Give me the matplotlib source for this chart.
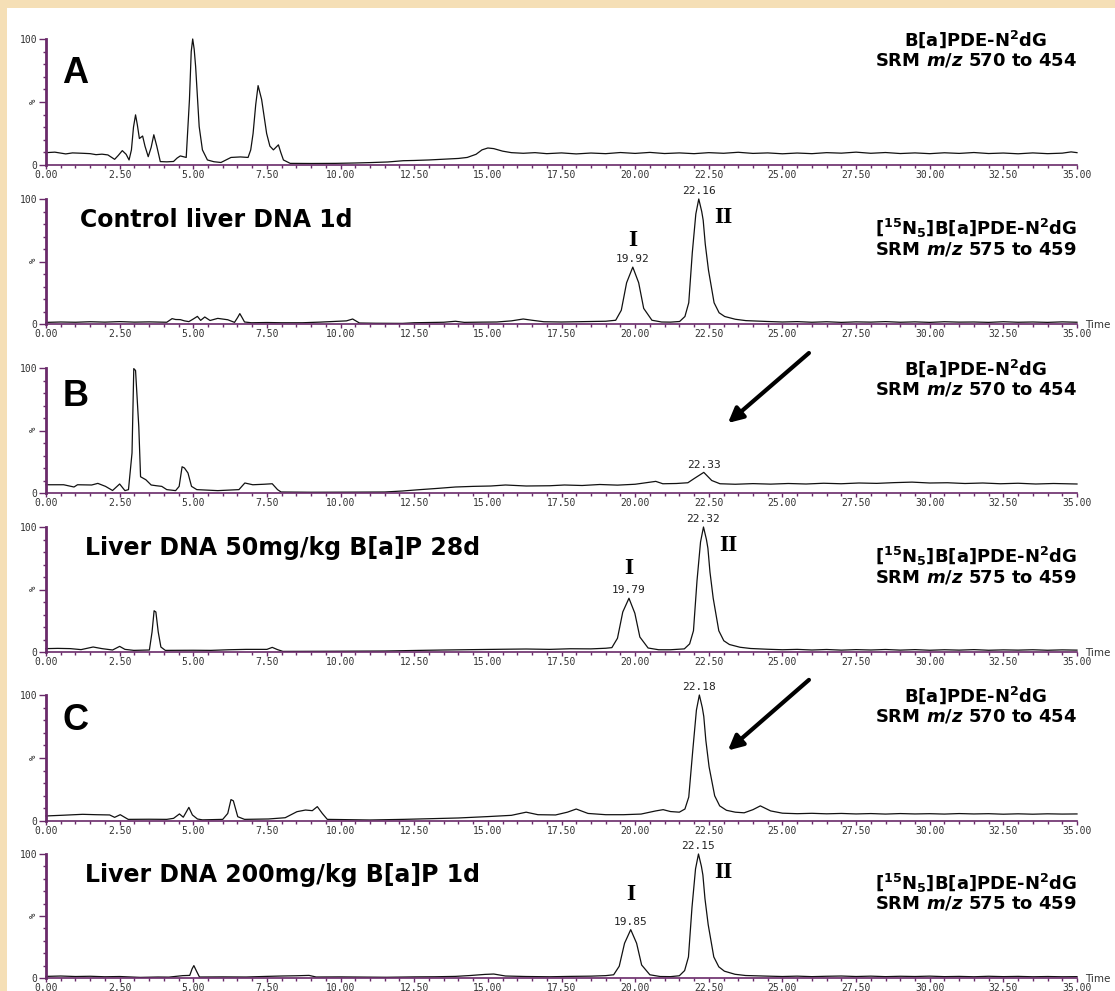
import matplotlib
matplotlib.use("Agg")
import numpy as np
import matplotlib.pyplot as plt
from matplotlib.patches import Rectangle
from matplotlib.ticker import MultipleLocator, FixedLocator, FormatStrFormatter

plt.rcParams["font.family"] = ["DejaVu Sans"]
plt.rcParams["mathtext.fontset"] = "custom"
plt.rcParams["mathtext.rm"] = "DejaVu Sans:bold"
plt.rcParams["mathtext.bf"] = "DejaVu Sans:bold"
plt.rcParams["mathtext.it"] = "DejaVu Sans:italic:bold"

# chromatogram traces, (time in min, relative intensity %)
trace_a = [(0.00, 9.8), (0.30, 10.2), (0.67, 8.8), (0.90, 9.6), (1.24, 9.3), (1.50, 9.0), (1.70, 8.2),
           (1.90, 8.6), (2.10, 8.0), (2.33, 4.5), (2.45, 7.5), (2.59, 11.4), (2.72, 8.5), (2.82, 4.0),
           (2.90, 12.0), (2.97, 30.0), (3.04, 39.8), (3.10, 32.0), (3.17, 21.0), (3.28, 23.0), (3.36, 15.0),
           (3.47, 6.6), (3.57, 14.0), (3.66, 24.0), (3.76, 15.0), (3.88, 2.7), (4.10, 2.5), (4.33, 2.8),
           (4.45, 5.5), (4.56, 7.2), (4.76, 6.0), (4.87, 52.0), (4.93, 90.0), (4.98, 100.0), (5.03, 92.0),
           (5.08, 78.0), (5.20, 30.5), (5.31, 12.0), (5.48, 4.0), (5.70, 2.6), (5.94, 2.0), (6.28, 6.0),
           (6.60, 6.4), (6.86, 6.0), (6.95, 12.0), (7.03, 25.0), (7.12, 48.0), (7.20, 63.0), (7.32, 52.0),
           (7.49, 25.0), (7.60, 15.0), (7.72, 12.0), (7.89, 16.0), (7.97, 10.0), (8.06, 4.0), (8.29, 1.3),
           (9.00, 1.2), (9.84, 1.3), (10.50, 1.6), (10.99, 1.9), (11.60, 2.4), (12.13, 3.4), (12.50, 3.6),
           (13.00, 4.0), (13.50, 4.6), (14.00, 5.2), (14.30, 6.0), (14.60, 8.5), (14.80, 12.0), (15.00, 13.5),
           (15.20, 13.0), (15.50, 11.0), (15.80, 9.8), (16.20, 9.3), (16.60, 9.8), (17.00, 9.0), (17.50, 9.6),
           (18.00, 8.8), (18.50, 9.5), (19.00, 9.0), (19.50, 9.9), (20.00, 9.2), (20.50, 10.0), (21.00, 9.1),
           (21.50, 9.6), (22.00, 9.0), (22.50, 9.8), (23.00, 9.3), (23.50, 10.1), (24.00, 9.2), (24.50, 9.6),
           (25.00, 8.9), (25.50, 9.5), (26.00, 9.0), (26.50, 9.8), (27.00, 9.4), (27.50, 10.2), (28.00, 9.3),
           (28.50, 9.9), (29.00, 9.1), (29.50, 9.6), (30.00, 9.0), (30.50, 9.7), (31.00, 9.2), (31.50, 9.9),
           (32.00, 9.1), (32.50, 9.5), (33.00, 8.9), (33.50, 9.6), (34.00, 9.0), (34.50, 9.4), (34.80, 10.4),
           (35.00, 9.8)]

trace_ctrl = [(0.00, 1.3), (0.50, 1.6), (1.00, 1.4), (1.50, 1.8), (2.00, 1.5), (2.50, 1.9), (3.00, 1.5),
              (3.50, 1.7), (4.10, 1.4), (4.28, 4.3), (4.40, 3.6), (4.56, 3.5), (4.70, 2.5), (4.85, 1.9),
              (5.00, 4.0), (5.14, 6.1), (5.25, 2.9), (5.39, 5.6), (5.57, 2.8), (5.83, 4.5), (6.17, 3.4),
              (6.40, 1.3), (6.50, 5.0), (6.58, 8.3), (6.66, 5.0), (6.74, 1.6), (6.97, 1.0), (7.50, 1.2),
              (8.00, 1.0), (8.70, 1.0), (9.30, 1.5), (9.84, 2.1), (10.20, 2.5), (10.41, 4.0), (10.64, 0.8),
              (11.20, 0.6), (12.10, 0.5), (12.50, 1.0), (13.00, 1.2), (13.50, 1.4), (13.90, 2.2), (14.20, 1.3),
              (14.80, 1.5), (15.30, 1.6), (15.80, 2.5), (16.20, 4.0), (16.50, 3.0), (16.90, 1.8), (17.50, 1.6),
              (18.00, 1.8), (18.50, 2.0), (19.00, 2.2), (19.34, 3.0), (19.53, 11.0), (19.71, 33.0),
              (19.92, 45.5), (20.12, 33.0), (20.29, 12.5), (20.57, 3.0), (20.90, 1.6), (21.20, 1.5),
              (21.51, 2.0), (21.69, 6.0), (21.82, 17.0), (21.94, 57.0), (22.06, 88.0), (22.16, 100.0),
              (22.26, 90.0), (22.31, 83.0), (22.38, 64.0), (22.49, 43.0), (22.68, 17.0), (22.85, 9.0),
              (23.04, 6.0), (23.40, 3.8), (23.76, 2.7), (24.50, 2.0), (25.00, 1.6), (25.50, 1.9), (26.00, 1.4),
              (26.50, 1.8), (27.00, 1.3), (27.50, 1.7), (28.00, 1.5), (28.50, 1.9), (29.00, 1.4), (29.50, 1.7),
              (30.00, 1.3), (30.50, 1.8), (31.00, 1.5), (31.50, 1.6), (32.00, 1.3), (32.50, 1.8), (33.00, 1.4),
              (33.50, 1.6), (34.00, 1.3), (34.50, 1.7), (35.00, 1.4)]

trace_b = [(0.00, 6.6), (0.60, 6.6), (0.95, 4.8), (1.07, 6.6), (1.55, 6.4), (1.76, 7.7), (2.02, 5.3),
           (2.26, 2.0), (2.50, 7.2), (2.68, 1.9), (2.80, 2.7), (2.92, 32.0), (2.98, 99.5), (3.04, 98.0),
           (3.15, 53.0), (3.21, 13.0), (3.39, 10.6), (3.57, 6.4), (3.75, 5.8), (3.93, 5.3), (4.10, 2.7),
           (4.40, 1.9), (4.52, 5.3), (4.62, 21.0), (4.70, 20.0), (4.82, 16.0), (4.94, 5.3), (5.12, 2.7),
           (5.83, 1.9), (6.55, 2.7), (6.75, 8.0), (7.02, 6.6), (7.40, 7.0), (7.68, 7.4), (7.86, 2.7),
           (7.98, 0.8), (9.00, 0.6), (10.50, 0.7), (11.50, 0.8), (12.10, 1.6), (12.70, 2.7), (13.30, 3.7),
           (13.90, 4.8), (14.50, 5.3), (15.10, 5.6), (15.60, 6.4), (16.30, 5.6), (17.10, 5.8), (17.60, 6.4),
           (18.20, 6.0), (18.80, 6.8), (19.40, 6.3), (20.00, 7.0), (20.70, 9.3), (20.94, 7.4), (21.40, 7.6),
           (21.79, 8.2), (22.00, 11.5), (22.33, 16.5), (22.60, 10.0), (22.88, 7.4), (23.40, 7.0), (24.00, 7.5),
           (24.60, 7.1), (25.20, 7.6), (25.80, 7.2), (26.40, 7.8), (26.99, 7.4), (27.60, 8.0), (28.20, 7.7),
           (28.80, 8.3), (29.40, 8.7), (30.00, 8.0), (30.60, 8.2), (31.20, 7.6), (31.80, 8.0), (32.40, 7.4),
           (33.00, 7.8), (33.60, 7.2), (34.20, 7.6), (35.00, 7.2)]

trace_50 = [(0.00, 2.7), (0.40, 2.9), (0.83, 2.7), (1.19, 1.9), (1.60, 4.0), (1.90, 2.7), (2.26, 1.6),
            (2.50, 4.5), (2.68, 2.1), (2.98, 1.3), (3.51, 1.6), (3.60, 16.0), (3.67, 33.0), (3.73, 32.0),
            (3.81, 16.0), (3.90, 4.0), (4.05, 1.3), (5.00, 1.4), (5.60, 1.3), (6.20, 1.8), (6.79, 2.1),
            (7.50, 2.1), (7.68, 3.7), (7.86, 1.9), (8.04, 0.5), (9.50, 0.6), (11.50, 0.8), (12.70, 1.3),
            (13.50, 1.6), (14.50, 1.9), (15.50, 2.2), (16.30, 2.4), (17.10, 2.1), (17.80, 2.6), (18.50, 2.5),
            (19.00, 3.0), (19.21, 3.5), (19.40, 11.0), (19.58, 32.0), (19.79, 43.0), (19.99, 31.0),
            (20.16, 12.0), (20.44, 3.2), (20.80, 1.8), (21.20, 1.8), (21.67, 2.5), (21.85, 6.5), (21.98, 17.0),
            (22.10, 57.0), (22.22, 88.0), (22.32, 100.0), (22.42, 90.0), (22.47, 83.0), (22.54, 64.0),
            (22.65, 43.0), (22.84, 17.0), (23.01, 9.0), (23.20, 6.0), (23.56, 3.8), (23.92, 2.8), (24.50, 2.2),
            (25.00, 1.8), (25.50, 2.1), (26.00, 1.6), (26.50, 2.0), (27.00, 1.5), (27.50, 1.9), (28.00, 1.6),
            (28.50, 2.0), (29.00, 1.5), (29.50, 1.9), (30.00, 1.4), (30.50, 1.8), (31.00, 1.5), (31.50, 1.9),
            (32.00, 1.4), (32.50, 1.7), (33.00, 1.5), (33.50, 1.8), (34.00, 1.4), (34.50, 1.7), (35.00, 1.5)]

trace_c = [(0.00, 4.0), (0.60, 4.6), (1.24, 5.3), (1.70, 5.0), (2.16, 4.8), (2.33, 2.9), (2.52, 5.0),
           (2.79, 1.3), (3.50, 1.4), (4.10, 1.3), (4.33, 2.1), (4.53, 5.6), (4.66, 3.0), (4.85, 10.8),
           (4.97, 4.8), (5.14, 1.6), (5.31, 0.9), (6.00, 1.3), (6.17, 6.0), (6.28, 17.0), (6.36, 16.0),
           (6.51, 3.4), (6.74, 1.3), (7.55, 1.6), (8.12, 2.6), (8.52, 7.4), (8.81, 8.7), (9.04, 8.2),
           (9.21, 11.4), (9.38, 6.0), (9.55, 1.3), (10.99, 0.8), (12.13, 1.3), (13.00, 1.8), (14.00, 2.4),
           (15.00, 3.5), (15.80, 4.5), (16.30, 7.0), (16.70, 5.0), (17.30, 4.8), (17.70, 7.0), (18.00, 9.5),
           (18.40, 6.0), (19.00, 5.0), (19.60, 5.0), (20.20, 5.5), (20.70, 8.0), (20.95, 9.0), (21.20, 7.5),
           (21.50, 7.0), (21.69, 9.5), (21.82, 19.0), (21.96, 57.0), (22.08, 88.0), (22.18, 100.0),
           (22.28, 90.0), (22.33, 83.0), (22.40, 64.0), (22.51, 43.0), (22.70, 20.0), (22.87, 12.0),
           (23.10, 8.5), (23.40, 7.0), (23.70, 6.5), (24.00, 9.0), (24.25, 12.0), (24.60, 8.0), (25.00, 6.2),
           (25.50, 5.8), (26.00, 6.1), (26.50, 5.7), (27.00, 6.0), (27.50, 5.6), (28.00, 5.9), (28.50, 5.5),
           (29.00, 5.9), (29.50, 5.6), (30.00, 5.8), (30.50, 5.5), (31.00, 5.9), (31.50, 5.6), (32.00, 5.8),
           (32.50, 5.4), (33.00, 5.7), (33.50, 5.4), (34.00, 5.7), (34.50, 5.5), (35.00, 5.6)]

trace_200 = [(0.00, 1.3), (0.50, 1.6), (1.00, 1.2), (1.50, 1.4), (2.00, 1.0), (2.50, 1.2), (3.20, 0.5),
             (3.80, 0.8), (4.17, 0.7), (4.64, 1.9), (4.88, 2.1), (4.96, 7.4), (5.02, 10.0), (5.10, 6.0),
             (5.21, 0.8), (6.00, 0.9), (6.79, 0.8), (7.50, 1.3), (7.98, 1.6), (8.50, 1.8), (8.93, 2.1),
             (9.17, 0.8), (10.00, 0.9), (11.55, 0.6), (12.50, 0.9), (13.20, 1.0), (13.90, 1.3), (14.40, 2.0),
             (14.90, 2.9), (15.20, 3.2), (15.60, 1.6), (16.30, 1.2), (17.10, 1.0), (17.80, 1.3), (18.50, 1.5),
             (19.00, 1.9), (19.27, 2.6), (19.46, 9.5), (19.64, 28.0), (19.85, 39.0), (20.05, 28.0),
             (20.22, 10.5), (20.50, 2.6), (20.85, 1.2), (21.20, 1.1), (21.50, 1.8), (21.68, 6.0), (21.81, 17.0),
             (21.93, 57.0), (22.05, 88.0), (22.15, 100.0), (22.25, 90.0), (22.30, 83.0), (22.37, 64.0),
             (22.48, 43.0), (22.67, 17.0), (22.84, 9.0), (23.03, 5.5), (23.39, 3.0), (23.75, 2.0), (24.50, 1.5),
             (25.00, 1.2), (25.50, 1.5), (26.00, 1.1), (26.50, 1.4), (27.00, 1.6), (27.50, 1.2), (28.00, 1.5),
             (28.50, 1.1), (29.00, 1.4), (29.50, 1.2), (30.00, 1.5), (30.50, 1.1), (31.00, 1.3), (31.50, 1.0),
             (32.00, 1.4), (32.50, 1.1), (33.00, 1.3), (33.50, 1.0), (34.00, 1.2), (34.50, 1.0), (35.00, 1.1)]

traces = [trace_a, trace_ctrl, trace_b, trace_50, trace_c, trace_200]
panel_letters = ["A", "", "B", "", "C", ""]
sample_labels = ["", "Control liver DNA 1d", "", "Liver DNA 50mg/kg B[a]P 28d", "",
                 "Liver DNA 200mg/kg B[a]P 1d"]
peak_times = [[], [19.92, 22.16], [22.33], [19.79, 22.32], [22.18], [19.85, 22.15]]
is_internal_std = [False, True, False, True, False, True]
has_arrow = [False, False, True, False, True, False]

analyte = r"B[a]PDE-N$^{2}$dG"
analyte_std = r"[$^{15}$N$_{5}$]B[a]PDE-N$^{2}$dG"
srm_analyte = r"SRM $\mathit{m/z}$ 570 to 454"
srm_std = r"SRM $\mathit{m/z}$ 575 to 459"

# layout in pixels of a 1115 x 991 canvas
W, H = 1115, 991
x_left, x_right = 46, 1077
panel_px = [(39, 165), (199, 324), (368, 493), (527, 652), (695, 821), (854, 978)]
letter_y = [0.73, 0, 0.77, 0, 0.80, 0]
purple = "#6a2a6a"
tick_family, tick_size = "DejaVu Sans Mono", 7

fig = plt.figure(figsize=(W / 100, H / 100), dpi=100)
fig.patch.set_facecolor("#f5dfb6")
fig.add_artist(Rectangle((7 / W, 0), 1, (H - 8) / H, transform=fig.transFigure,
                         facecolor="white", edgecolor="none", zorder=0))

for i, trace in enumerate(traces):
    top, bot = panel_px[i]
    ax = fig.add_axes([x_left / W, 1 - bot / H, (x_right - x_left) / W, (bot - top) / H])
    ax.set_facecolor("none")
    t, y = zip(*trace)
    ax.plot(t, y, color="#111111", lw=0.9, clip_on=False)
    ax.set_xlim(0, 35)
    ax.set_ylim(0, 100)

    for s in ["top", "right"]:
        ax.spines[s].set_visible(False)
    ax.spines["left"].set_color(purple)
    ax.spines["left"].set_linewidth(2)
    ax.spines["bottom"].set_color(purple)
    ax.spines["bottom"].set_linewidth(1.2)

    ax.xaxis.set_major_locator(MultipleLocator(2.5))
    ax.xaxis.set_minor_locator(MultipleLocator(0.5))
    ax.xaxis.set_major_formatter(FormatStrFormatter("%.2f"))
    ax.yaxis.set_major_locator(FixedLocator([0, 50, 100]))
    ax.yaxis.set_minor_locator(MultipleLocator(10))
    ax.set_yticklabels(["0", "%", "100"])
    ax.tick_params(which="both", direction="out", color=purple, width=1, labelcolor="#333333")
    ax.tick_params(axis="x", which="major", length=3, pad=0.5)
    ax.tick_params(axis="x", which="minor", length=2.5)
    ax.tick_params(axis="y", which="major", length=5, pad=1)
    ax.tick_params(axis="y", which="minor", length=2)
    for lab in ax.get_xticklabels() + ax.get_yticklabels():
        lab.set_fontfamily(tick_family)
        lab.set_fontsize(tick_size)
    ax.get_yticklabels()[1].set_rotation(90)
    ax.get_yticklabels()[1].set_fontsize(6.5)

    # retention time labels over the peaks
    for rt in peak_times[i]:
        ax.annotate(f"{rt:.2f}", xy=(rt, np.interp(rt, t, y)), xytext=(0, 2), textcoords="offset points",
                    ha="center", va="bottom", fontsize=8, family="DejaVu Sans Mono", color="#222222",
                    annotation_clip=False)

    if panel_letters[i]:
        ax.text(0.016, letter_y[i], panel_letters[i], transform=ax.transAxes, fontsize=26,
                fontweight="bold", family="Liberation Sans", va="center", ha="left")

    if is_internal_std[i]:
        ax.text(0.902, 0.765, analyte_std, transform=ax.transAxes, ha="center", va="center",
                fontsize=13, fontweight="bold")
        ax.text(0.902, 0.597, srm_std, transform=ax.transAxes, ha="center", va="center",
                fontsize=13, fontweight="bold")
        ax.text(1.008, -0.01, "Time", transform=ax.transAxes, ha="left", va="center",
                fontsize=7.5, color="#333333")
        rt1, rt2 = peak_times[i]
        ax.text(rt1, 67, "I", ha="center", va="center", fontsize=17, fontweight="bold",
                family="Liberation Serif")
        ax.text(rt2 + 0.83, 85, "II", ha="center", va="center", fontsize=17, fontweight="bold",
                family="Liberation Serif")
    else:
        ax.text(0.902, 1.0, analyte, transform=ax.transAxes, ha="center", va="center",
                fontsize=13, fontweight="bold")
        ax.text(0.902, 0.83, srm_analyte, transform=ax.transAxes, ha="center", va="center",
                fontsize=13, fontweight="bold")

    if sample_labels[i]:
        x0 = 0.033 if i == 1 else 0.038
        ax.text(x0, 0.83, sample_labels[i], transform=ax.transAxes, ha="left", va="center",
                fontsize=17, fontweight="bold")

    if has_arrow[i]:
        ax.annotate("", xy=(23.15, 56), xytext=(25.9, 112), annotation_clip=False,
                    arrowprops=dict(arrowstyle="-|>", lw=3, color="black", mutation_scale=22,
                                    shrinkA=0, shrinkB=0))

fig.savefig("out.png", dpi=100)
